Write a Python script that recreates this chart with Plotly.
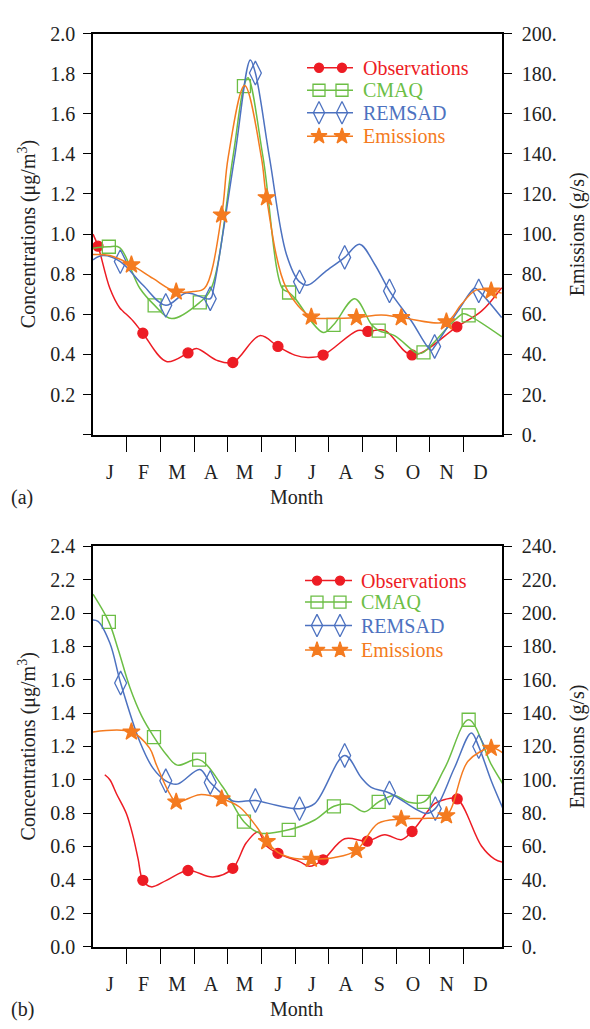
import plotly.graph_objects as go

# ---------------------------------------------------------------- data
months = ["J", "F", "M", "A", "M", "J", "J", "A", "S", "O", "N", "D"]
month_pos = [1, 2, 3, 4, 5, 6, 7, 8, 9, 10, 11, 12]
month_edges = [1.5, 2.5, 3.5, 4.5, 5.5, 6.5, 7.5, 8.5, 9.5, 10.5, 11.5]
series_names = ["Observations", "CMAQ", "REMSAD", "Emissions"]

# panel (a): concentrations in ug/m3, emissions in g/s (x in months)
obs_a_x = [0.5, 0.65, 1.0, 1.29, 1.39, 1.69, 1.98, 2.68, 3.32, 3.57, 4.16, 4.65, 5.45, 5.99,
           6.49, 6.88, 7.33, 8.36, 8.66, 9.16, 9.97, 11.30, 12.03, 12.63]
obs_a_y = [1.00, 0.94, 0.73, 0.633, 0.616, 0.567, 0.506, 0.365, 0.408, 0.43, 0.372, 0.36, 0.494, 0.44,
           0.397, 0.385, 0.397, 0.52, 0.515, 0.52, 0.398, 0.538, 0.616, 0.733]
obs_a_marks = [1, 6, 8, 11, 13, 16, 18, 20, 21]

cmaq_a_x = [0.5, 0.97, 1.29, 1.89, 2.33, 2.83, 3.67, 4.01, 4.65, 4.98, 5.10, 5.55, 6.12, 6.32,
            6.49, 7.33, 7.64, 8.27, 8.76, 8.98, 9.45, 10.14, 10.31, 11.48, 11.65, 12.63]
cmaq_a_y = [0.93, 0.937, 0.933, 0.73, 0.645, 0.579, 0.66, 0.73, 1.38, 1.738, 1.779, 1.38, 0.73, 0.709,
            0.681, 0.51, 0.548, 0.678, 0.551, 0.519, 0.494, 0.405, 0.411, 0.603, 0.595, 0.489]
cmaq_a_marks = [1, 4, 6, 9, 13, 16, 19, 22, 24]

remsad_a_x = [0.5, 0.80, 1.31, 1.98, 2.66, 3.27, 3.98, 4.08, 4.70, 5.17, 5.32, 5.74, 6.24, 6.63,
              6.88, 7.38, 7.97, 8.41, 8.86, 9.30, 9.95, 10.54, 10.64, 11.33, 11.83, 11.95, 12.63]
remsad_a_y = [0.872, 0.893, 0.863, 0.746, 0.645, 0.706, 0.678, 0.73, 1.38, 1.868, 1.803, 1.38, 0.90, 0.762,
              0.746, 0.811, 0.884, 0.95, 0.85, 0.717, 0.567, 0.421, 0.44, 0.616, 0.73, 0.717, 0.584]
remsad_a_marks = [2, 4, 6, 10, 13, 16, 19, 22, 25]

emis_a_x = [0.5, 1.0, 1.64, 2.28, 2.97, 3.47, 3.81, 4.32, 4.51, 5.0, 5.5, 5.65, 6.24, 6.98,
            7.47, 8.32, 9.06, 9.65, 10.99, 11.43, 11.88, 12.32, 12.63]
emis_a_y = [89.8, 89.3, 84.7, 77.9, 71.2, 71.4, 73.0, 109.6, 138.0, 174.1, 138.0, 118.2, 73.0, 58.7,
            58.0, 58.4, 59.7, 58.4, 56.3, 64.9, 72.2, 71.7, 70.6]
emis_a_marks = [2, 4, 7, 11, 13, 15, 17, 18, 21]

# panel (b)
obs_b_x = [0.85, 1.0, 1.2, 1.49, 1.69, 1.84, 1.98, 2.23, 2.68, 3.32, 4.06, 4.65, 5.05, 5.40, 5.65,
           5.99, 6.63, 6.93, 7.33, 7.97, 8.64, 9.16, 9.65, 9.97, 10.64, 10.95, 11.31, 12.03, 12.42, 12.67]
obs_b_y = [1.03, 1.0, 0.915, 0.798, 0.661, 0.524, 0.397, 0.358, 0.397, 0.456, 0.417, 0.469, 0.622, 0.687, 0.603,
           0.559, 0.509, 0.481, 0.52, 0.646, 0.632, 0.671, 0.641, 0.69, 0.857, 0.882, 0.885, 0.603, 0.524, 0.505]
obs_b_marks = [6, 9, 11, 15, 18, 20, 23, 26]

cmaq_b_x = [0.5, 0.97, 1.25, 1.6, 1.95, 2.31, 2.68, 3.0, 3.65, 4.36, 4.98, 5.45, 6.31, 7.08, 7.65,
            8.12, 8.56, 8.98, 9.45, 9.85, 10.32, 10.94, 11.65, 12.32, 12.67]
cmaq_b_y = [2.113, 1.947, 1.78, 1.55, 1.38, 1.256, 1.15, 1.088, 1.121, 0.955, 0.749, 0.681, 0.70, 0.759, 0.841,
            0.853, 0.808, 0.867, 0.906, 0.867, 0.867, 1.07, 1.36, 1.092, 0.974]
cmaq_b_marks = [1, 5, 8, 10, 12, 14, 17, 20, 22]

remsad_b_x = [0.5, 0.65, 1.0, 1.32, 1.89, 2.28, 2.66, 3.0, 3.67, 3.98, 4.65, 5.32, 5.94, 6.63, 7.08,
              7.97, 8.46, 8.76, 9.30, 10.39, 10.66, 11.23, 11.73, 11.95, 12.32, 12.67]
remsad_b_y = [1.958, 1.95, 1.82, 1.58, 1.228, 1.07, 0.994, 0.974, 1.062, 0.984, 0.873, 0.876, 0.847, 0.827, 0.857,
              1.146, 1.014, 0.955, 0.921, 0.798, 0.827, 1.072, 1.281, 1.199, 0.994, 0.827]
remsad_b_marks = [3, 6, 9, 11, 13, 15, 18, 20, 23]

emis_b_x = [0.5, 1.64, 2.18, 2.38, 2.78, 2.97, 3.67, 4.32, 4.85, 5.35, 5.66, 5.99, 6.49, 6.98, 7.67,
            8.32, 8.96, 9.65, 10.44, 10.99, 11.63, 12.32, 12.67]
emis_b_y = [128.7, 128.7, 119.0, 109.0, 91.5, 86.7, 91.1, 88.6, 83.7, 72.0, 63.0, 56.5, 52.8, 52.4, 53.4,
            57.7, 73.9, 76.5, 76.9, 78.5, 111.1, 119.0, 116.0]
emis_b_marks = [1, 5, 7, 10, 13, 15, 17, 19, 21]

# ---------------------------------------------------------------- style
FONT = "Liberation Serif"
INK = "#222222"
W, H = 590, 1029

series_style = {
    "Observations": dict(color="#ED1C24", symbol="circle", size=10),
    "CMAQ": dict(color="#6CBE45", symbol="square-open", size=13),
    "REMSAD": dict(color="#4D72C0", symbol="diamond-tall-open", size=17),
    "Emissions": dict(color="#F47B20", symbol="star", size=13),
}
LINE_W = 1.5

fig = go.Figure()


def add_series(name, xs, ys, marks, xaxis, yaxis):
    st = series_style[name]
    fig.add_trace(go.Scatter(
        x=xs, y=ys, mode="lines", xaxis=xaxis, yaxis=yaxis, name=name,
        line=dict(color=st["color"], width=LINE_W, shape="spline", smoothing=1.0),
        showlegend=False, hoverinfo="skip"))
    fig.add_trace(go.Scatter(
        x=[xs[i] for i in marks], y=[ys[i] for i in marks], mode="markers",
        xaxis=xaxis, yaxis=yaxis, name=name,
        marker=dict(color=st["color"], symbol=st["symbol"], size=st["size"],
                    line=dict(color=st["color"], width=1.3)),
        showlegend=False))


add_series("Observations", obs_a_x, obs_a_y, obs_a_marks, "x", "y")
add_series("CMAQ", cmaq_a_x, cmaq_a_y, cmaq_a_marks, "x", "y")
add_series("REMSAD", remsad_a_x, remsad_a_y, remsad_a_marks, "x", "y")
add_series("Emissions", emis_a_x, emis_a_y, emis_a_marks, "x", "y2")

add_series("Observations", obs_b_x, obs_b_y, obs_b_marks, "x2", "y3")
add_series("CMAQ", cmaq_b_x, cmaq_b_y, cmaq_b_marks, "x2", "y3")
add_series("REMSAD", remsad_b_x, remsad_b_y, remsad_b_marks, "x2", "y3")
add_series("Emissions", emis_b_x, emis_b_y, emis_b_marks, "x2", "y4")

# ---------------------------------------------------------------- in-plot legends
# a hidden full-page axis pair in pixel units carries the legend glyphs
legend_boxes = [
    dict(line=(307, 353), marks=(319, 342), text_x=361, rows=[58, 81, 104, 128]),
    dict(line=(305, 352), marks=(317, 340), text_x=359, rows=[582, 604, 628, 653]),
]
for box in legend_boxes:
    for name, row in zip(series_names, box["rows"]):
        st = series_style[name]
        fig.add_trace(go.Scatter(
            x=list(box["line"]), y=[row, row], mode="lines", xaxis="x3", yaxis="y5",
            line=dict(color=st["color"], width=LINE_W), showlegend=False, hoverinfo="skip"))
        fig.add_trace(go.Scatter(
            x=list(box["marks"]), y=[row, row], mode="markers", xaxis="x3", yaxis="y5",
            marker=dict(color=st["color"], symbol=st["symbol"], size=st["size"] - 1,
                        line=dict(color=st["color"], width=1.3)),
            showlegend=False, hoverinfo="skip"))
        fig.add_annotation(x=box["text_x"], y=row, xref="x3", yref="y5", text=name,
                           showarrow=False, xanchor="left", yanchor="middle",
                           font=dict(family=FONT, size=20, color=st["color"]))

# ---------------------------------------------------------------- layout
x_dom = [93 / W, 502 / W]
dom_a = [(H - 433) / H, (H - 23) / H]
dom_b = [(H - 956) / H, (H - 547) / H]

tick_font = dict(family=FONT, size=20, color=INK)


def month_axis(anchor):
    return dict(
        domain=x_dom, range=[0.5, 12.64], anchor=anchor,
        tickmode="array", tickvals=month_pos, ticktext=months,
        ticks="outside", ticklen=19, tickcolor="rgba(0,0,0,0)",
        minor=dict(tickmode="array", tickvals=month_edges, ticks="outside",
                   ticklen=16, tickwidth=1.3, tickcolor="black", showgrid=False),
        showline=True, linecolor="black", linewidth=1.5, mirror=True,
        showgrid=False, zeroline=False, tickfont=tick_font, fixedrange=True)


def conc_axis(domain, top, anchor, labels):
    vals = [round(0.2 * i, 1) for i in range(int(round(top / 0.2)) + 1)]
    return dict(
        domain=domain, range=[0, top], anchor=anchor,
        tickmode="array", tickvals=vals, ticktext=labels,
        ticks="outside", ticklen=8, tickwidth=1.3, tickcolor="black",
        ticklabelstandoff=4,
        showline=True, linecolor="black", linewidth=1.5,
        showgrid=False, zeroline=False, tickfont=tick_font, fixedrange=True)


def emis_axis(overlay, top, anchor):
    vals = list(range(0, top + 1, 20))
    return dict(
        overlaying=overlay, side="right", range=[0, top], anchor=anchor,
        tickmode="array", tickvals=vals, ticktext=[f"{v}." for v in vals],
        ticks="outside", ticklen=8, tickwidth=1.3, tickcolor="black",
        ticklabelstandoff=6,
        showline=True, linecolor="black", linewidth=1.5,
        showgrid=False, zeroline=False, tickfont=tick_font, fixedrange=True)


conc_a_labels = [""] + [f"{0.2 * i:.1f}" for i in range(1, 11)]
conc_b_labels = [f"{0.2 * i:.1f}" for i in range(0, 13)]

fig.update_layout(
    width=W, height=H, margin=dict(l=0, r=0, t=0, b=0),
    paper_bgcolor="white", plot_bgcolor="rgba(0,0,0,0)",
    font=dict(family=FONT, size=20, color=INK),
    showlegend=False,
    xaxis=month_axis("y"),
    yaxis=conc_axis(dom_a, 2.0, "x", conc_a_labels),
    yaxis2=emis_axis("y", 200, "x"),
    xaxis2=month_axis("y3"),
    yaxis3=conc_axis(dom_b, 2.4, "x2", conc_b_labels),
    yaxis4=emis_axis("y3", 240, "x2"),
    xaxis3=dict(domain=[0, 1], range=[0, W], anchor="y5", visible=False, fixedrange=True),
    yaxis5=dict(domain=[0, 1], range=[H, 0], anchor="x3", visible=False, fixedrange=True),
)

# axis titles and panel tags
title_font = dict(family=FONT, size=20, color=INK)
for y_mid, y_month, tag in [((23 + 433) / 2, 497, "(a)"), ((547 + 956) / 2, 1020, "(b)")]:
    fig.add_annotation(x=27 / W, y=(H - y_mid) / H, xref="paper", yref="paper",
                       text="Concentrations (μg/m<sup>3</sup>)", textangle=-90,
                       showarrow=False, font=title_font, xanchor="center", yanchor="middle")
    fig.add_annotation(x=577 / W, y=(H - y_mid) / H, xref="paper", yref="paper",
                       text="Emissions (g/s)", textangle=-90,
                       showarrow=False, font=title_font, xanchor="center", yanchor="middle")
    fig.add_annotation(x=297 / W, y=(H - y_month) / H, xref="paper", yref="paper",
                       text="Month", showarrow=False, font=title_font,
                       xanchor="center", yanchor="middle")
    fig.add_annotation(x=22 / W, y=(H - y_month) / H, xref="paper", yref="paper",
                       text=tag, showarrow=False, font=title_font,
                       xanchor="center", yanchor="middle")

fig.write_html("out.html")
